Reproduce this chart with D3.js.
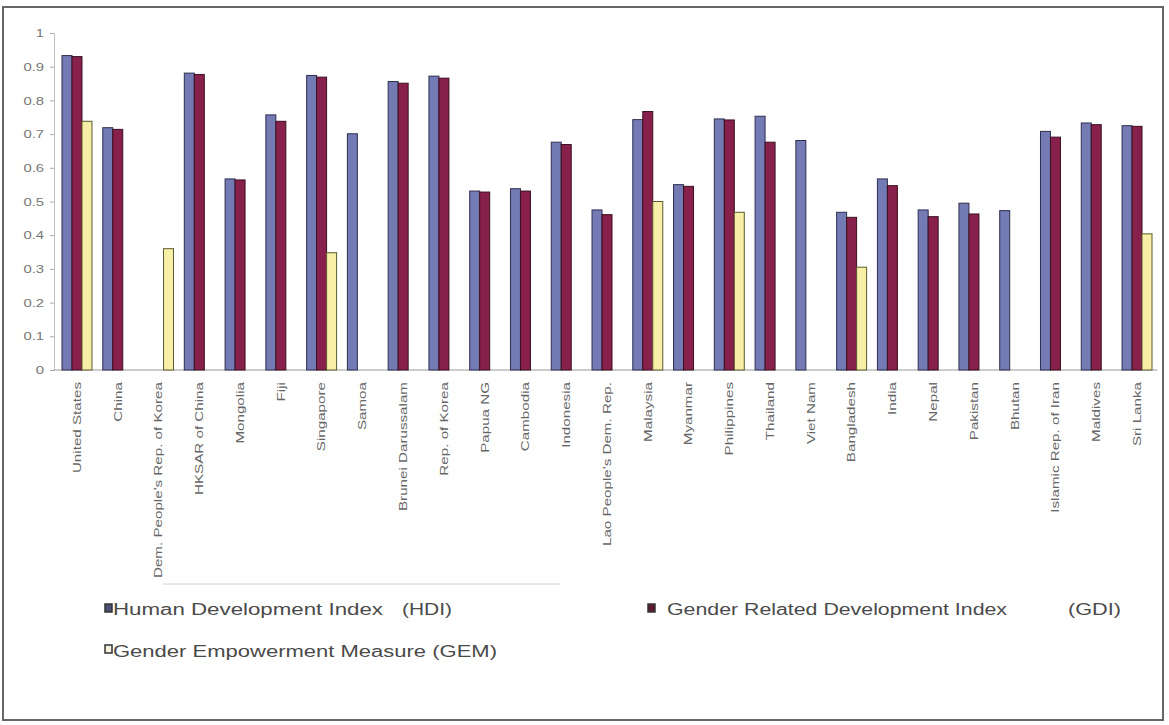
<!DOCTYPE html>
<html>
<head>
<meta charset="utf-8">
<script src="https://cdn.jsdelivr.net/npm/d3@7"></script>
<style>
  html, body { margin: 0; padding: 0; background: #fff; }
  svg { display: block; font-family: Arial, "Liberation Sans", sans-serif; }
</style>
</head>
<body>
<svg id="chart" width="1169" height="725"></svg>
<script>
// Countries along the category axis
const categories = [
  "United States", "China", "Dem. People's Rep. of Korea", "HKSAR of China",
  "Mongolia", "Fiji", "Singapore", "Samoa", "Brunei Darussalam", "Rep. of Korea",
  "Papua NG", "Cambodia", "Indonesia", "Lao People's Dem. Rep.", "Malaysia",
  "Myanmar", "Philippines", "Thailand", "Viet Nam", "Bangladesh", "India",
  "Nepal", "Pakistan", "Bhutan", "Islamic Rep. of Iran", "Maldives", "Sri Lanka"
];

// Index values per country (null = not available)
const hdi = [0.933, 0.719, null, 0.881, 0.567, 0.757, 0.874, 0.701, 0.856, 0.872,
             0.531, 0.538, 0.676, 0.475, 0.743, 0.550, 0.745, 0.753, 0.681, 0.468,
             0.567, 0.475, 0.495, 0.473, 0.708, 0.733, 0.725];
const gdi = [0.930, 0.714, null, 0.877, 0.564, 0.738, 0.869, null, 0.851, 0.866,
             0.528, 0.531, 0.669, 0.461, 0.767, 0.545, 0.742, 0.676, null, 0.453,
             0.547, 0.455, 0.463, null, 0.691, 0.728, 0.723];
const gem = [0.738, null, 0.360, null, null, null, 0.348, null, null, null,
             null, null, null, null, 0.500, null, 0.468, null, null, 0.305,
             null, null, null, null, null, null, 0.404];

const seriesKeys = ["HDI", "GDI", "GEM"];
const seriesNames = ["Human Development Index", "Gender Related Development Index", "Gender Empowerment Measure (GEM)"];
const seriesAbbr = ["(HDI)", "(GDI)", ""];
const yTicks = [0, 0.1, 0.2, 0.3, 0.4, 0.5, 0.6, 0.7, 0.8, 0.9, 1];

const seriesValues = { HDI: hdi, GDI: gdi, GEM: gem };
const fills = { HDI: "#737ab4", GDI: "#87204b", GEM: "#f7efa6" };
const strokes = { HDI: "#2f3050", GDI: "#3a1020", GEM: "#5a5a30" };
const legendFills = { HDI: "#4f5270", GDI: "#5e1830", GEM: "#f4f2dc" };

const svg = d3.select("#chart");

// Outer frame
svg.append("rect")
  .attr("x", 3).attr("y", 7).attr("width", 1160).attr("height", 713)
  .attr("fill", "#fff").attr("stroke", "#666").attr("stroke-width", 2);

const y = d3.scaleLinear().domain([0, 1]).range([370, 33]);
const x = d3.scaleBand().domain(categories).range([56.6, 1157.4]).paddingInner(0).paddingOuter(0);
const xs = d3.scaleBand().domain(seriesKeys).range([0, x.bandwidth()]).paddingInner(0).paddingOuter(0.54);

// Value axis
const yAxisG = svg.append("g").attr("transform", "translate(54,0)")
  .call(d3.axisLeft(y).tickValues(yTicks).tickSize(4).tickFormat(d3.format("")));
yAxisG.select(".domain").attr("stroke", "#c0c0c0").attr("stroke-width", 1);
yAxisG.selectAll(".tick line").attr("stroke", "#aaa");
yAxisG.selectAll(".tick text").remove();
yAxisG.selectAll(".tick")
  .append("g")
  .attr("transform", "translate(-10,0) scale(1.35,1)")
  .append("text")
  .attr("text-anchor", "end")
  .attr("dy", "0.33em")
  .attr("font-size", 11)
  .attr("fill", "#777")
  .text(d => d3.format("")(d));

// Category axis baseline
svg.append("line")
  .attr("x1", 54).attr("x2", x.range()[1])
  .attr("y1", y(0)).attr("y2", y(0))
  .attr("stroke", "#9a9a9a").attr("stroke-width", 1);

// Bars
const rows = categories.map((c, i) => ({ c, vals: seriesKeys.map(k => ({ k, v: seriesValues[k][i] })) }));
const groups = svg.append("g").selectAll("g").data(rows).join("g")
  .attr("transform", d => `translate(${x(d.c)},0)`);
groups.selectAll("rect")
  .data(d => d.vals.filter(e => e.v != null))
  .join("rect")
  .attr("x", d => xs(d.k))
  .attr("width", xs.bandwidth())
  .attr("y", d => y(d.v))
  .attr("height", d => y(0) - y(d.v))
  .attr("fill", d => fills[d.k])
  .attr("stroke", d => strokes[d.k])
  .attr("stroke-width", 1);

// Category labels, rotated
svg.append("g").selectAll("g").data(categories).join("g")
  .attr("transform", d => `translate(${x(d) + x.bandwidth() / 2},382) rotate(-90) scale(1.38,1)`)
  .append("text")
  .attr("text-anchor", "end")
  .attr("dy", "0.35em")
  .attr("font-size", 11)
  .attr("fill", "#666")
  .text(d => d);

// Faint separator above the legend
svg.append("line")
  .attr("x1", 163).attr("x2", 560).attr("y1", 584).attr("y2", 584)
  .attr("stroke", "#d0d0d0").attr("stroke-width", 1);

// Legend
const legendItems = [
  { k: "HDI", sx: 105, sy: 604, tx: 113, tw: 270, ax: 402, aw: 50, by: 615 },
  { k: "GDI", sx: 648, sy: 604, tx: 667, tw: 340, ax: 1068, aw: 53, by: 615 },
  { k: "GEM", sx: 105, sy: 645, tx: 113, tw: 384, ax: 0, aw: 0, by: 657 }
];
const lg = svg.append("g").selectAll("g").data(legendItems).join("g");
lg.append("rect")
  .attr("x", d => d.sx).attr("y", d => d.sy).attr("width", 7).attr("height", 8)
  .attr("fill", d => legendFills[d.k]).attr("stroke", "#333").attr("stroke-width", 1.5);
lg.append("text")
  .attr("x", d => d.tx).attr("y", d => d.by)
  .attr("font-size", 16)
  .attr("fill", "#4a4a4a")
  .attr("textLength", d => d.tw)
  .attr("lengthAdjust", "spacingAndGlyphs")
  .text(d => seriesNames[seriesKeys.indexOf(d.k)]);
lg.filter(d => seriesAbbr[seriesKeys.indexOf(d.k)] !== "")
  .append("text")
  .attr("x", d => d.ax).attr("y", d => d.by)
  .attr("font-size", 16)
  .attr("fill", "#4a4a4a")
  .attr("textLength", d => d.aw)
  .attr("lengthAdjust", "spacingAndGlyphs")
  .text(d => seriesAbbr[seriesKeys.indexOf(d.k)]);
</script>
</body>
</html>
